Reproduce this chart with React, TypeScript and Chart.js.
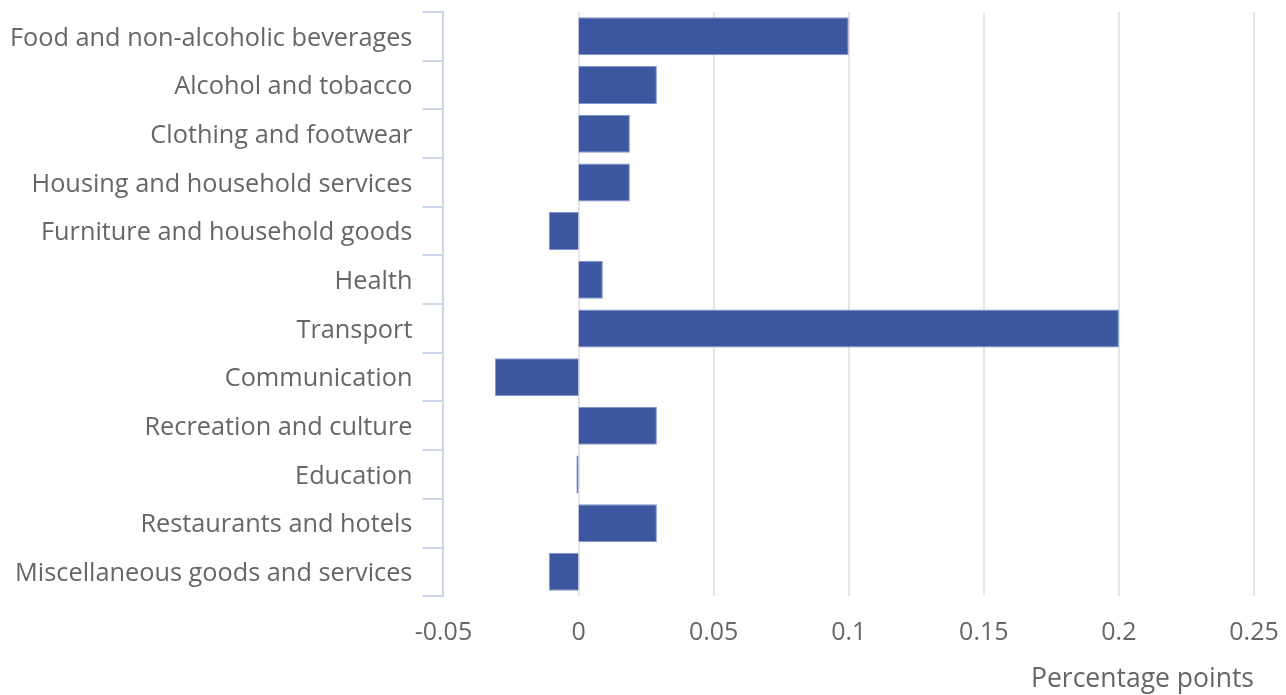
import React, { useEffect, useRef } from "react";
import { Chart, registerables } from "chart.js";

Chart.register(...registerables);

const categories = [
  "Food and non-alcoholic beverages",
  "Alcohol and tobacco",
  "Clothing and footwear",
  "Housing and household services",
  "Furniture and household goods",
  "Health",
  "Transport",
  "Communication",
  "Recreation and culture",
  "Education",
  "Restaurants and hotels",
  "Miscellaneous goods and services",
];

const values = [0.1, 0.029, 0.019, 0.019, -0.011, 0.009, 0.2, -0.031, 0.029, -0.0008, 0.029, -0.011];

const xMin = -0.05;
const xMax = 0.25;
const xStep = 0.05;
const xTitle = "Percentage points";

export default function App() {
  const ref = useRef<HTMLCanvasElement | null>(null);
  useEffect(() => {
    if (!ref.current) return;
    const font = "'Open Sans', 'Noto Sans', sans-serif";
    const chart = new Chart(ref.current, {
      type: "bar",
      data: {
        labels: categories,
        datasets: [
          {
            data: values,
            backgroundColor: "#3c57a0",
            borderColor: "#8196cc",
            borderWidth: 1,
            barPercentage: 0.78,
            categoryPercentage: 1,
          },
        ],
      },
      options: {
        indexAxis: "y",
        animation: false,
        responsive: false,
        devicePixelRatio: 1,
        layout: { padding: { top: 12, right: 32, left: 0, bottom: 0 } },
        plugins: { legend: { display: false }, tooltip: { enabled: false } },
        scales: {
          x: {
            min: xMin,
            max: xMax,
            border: { display: false },
            grid: {
              color: (ctx: any) => (ctx.index === 0 ? "rgba(0,0,0,0)" : "#e6e6e6"),
              lineWidth: 2,
              drawTicks: false,
            },
            ticks: {
              stepSize: xStep,
              padding: 22,
              color: "#666666",
              font: { family: font, size: 25 },
              callback: (v: any) => String(Number(Number(v).toFixed(4))),
            },
            title: {
              display: true,
              text: xTitle,
              align: "end",
              color: "#666666",
              font: { family: font, size: 26.5 },
              padding: { top: -7, bottom: 0 },
            },
            afterFit: (scale: any) => {
              scale.paddingRight = 0;
              scale.paddingLeft = 0;
            },
          },
          y: {
            border: { display: true, color: "#ccd6eb", width: 2 },
            grid: {
              offset: true,
              drawOnChartArea: false,
              drawTicks: true,
              tickLength: 21,
              color: "#ccd6eb",
              lineWidth: 2,
            },
            ticks: {
              padding: 10,
              labelOffset: 2,
              color: "#666666",
              font: { family: font, size: 25.3 },
              autoSkip: false,
            },
            afterFit: (scale: any) => {
              scale.paddingTop = 0;
              scale.paddingBottom = 0;
            },
          },
        },
      },
    });
    return () => chart.destroy();
  }, []);
  return (
    <div style={{ position: "absolute", left: 0, top: 0, width: 1286, height: 695, background: "#fff" }}>
      <canvas ref={ref} width={1286} height={695} style={{ width: 1286, height: 695 }} />
    </div>
  );
}
